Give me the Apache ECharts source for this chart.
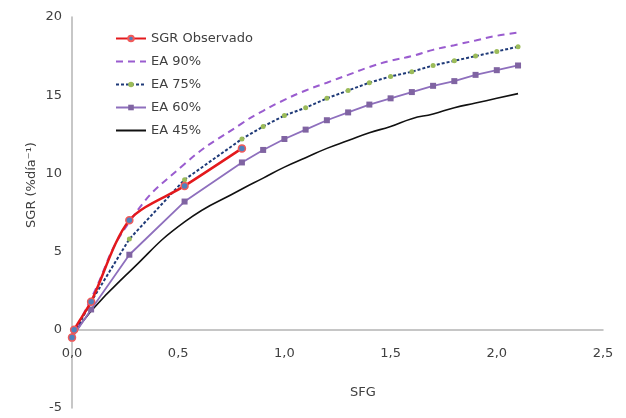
<!DOCTYPE html>
<html>
<head>
<meta charset="utf-8">
<script src="https://cdn.jsdelivr.net/npm/echarts@6/dist/echarts.min.js"></script>
<style>html,body{margin:0;padding:0;background:#fff}#c{width:626px;height:418px}</style>
</head>
<body>
<div id="c"></div>
<script>
// ---- data ----
const seriesNames = ['SGR Observado', 'EA 90%', 'EA 75%', 'EA 60%', 'EA 45%'];
const obsX = [0.0, 0.01, 0.09, 0.27, 0.53, 0.80];
const obsY = [-0.5, 0.0, 1.8, 7.0, 9.2, 11.6];
const modelX = [0.0, 0.09, 0.27, 0.53, 0.8, 0.9, 1.0, 1.1, 1.2, 1.3, 1.4, 1.5, 1.6, 1.7, 1.8, 1.9, 2.0, 2.1];
const ea90 = [-0.5, 2.0, 6.9, 10.6, 13.2, 14.0, 14.7, 15.3, 15.8, 16.3, 16.8, 17.2, 17.5, 17.9, 18.2, 18.5, 18.8, 19.0];
const ea75 = [-0.5, 1.8, 5.8, 9.6, 12.2, 13.0, 13.7, 14.2, 14.8, 15.3, 15.8, 16.2, 16.5, 16.9, 17.2, 17.5, 17.8, 18.1];
const ea60 = [-0.5, 1.3, 4.8, 8.2, 10.7, 11.5, 12.2, 12.8, 13.4, 13.9, 14.4, 14.8, 15.2, 15.6, 15.9, 16.3, 16.6, 16.9];
const ea45 = [-0.5, 1.2, 3.7, 6.9, 9.0, 9.7, 10.4, 11.0, 11.6, 12.1, 12.6, 13.0, 13.5, 13.8, 14.2, 14.5, 14.8, 15.1];
const xTicks = { min: 0, max: 2.5, interval: 0.5 };
const yTicks = { min: -5, max: 20, interval: 5 };
const xTitle = 'SFG';
const yTitle = 'SGR (%día⁻¹)';

const pairs = (xs, ys) => xs.map((x, i) => [x, ys[i]]);
const FONT = 'DejaVu Sans';
const TXT = '#404040';
const AXIS = '#b4b4b4';
const HIDE = { color: 'rgba(0,0,0,0)', borderColor: 'rgba(0,0,0,0)', borderWidth: 0 };

// layout: plot area, and the part of it above y = 0 (where the x axis is drawn)
const G = { left: 72, right: 23, top: 17, bottom: 10 };
const plotH = 418 - G.top - G.bottom;
const zeroY = G.top + plotH * (yTicks.max - 0) / (yTicks.max - yTicks.min);

const chart = echarts.init(document.getElementById('c'), null, { renderer: 'canvas' });
chart.setOption({
  animation: false,
  backgroundColor: '#fff',
  textStyle: { fontFamily: FONT },
  grid: [
    { left: G.left, right: G.right, top: G.top, bottom: G.bottom },
    { left: G.left, right: G.right, top: G.top, bottom: 418 - zeroY }
  ],
  legend: {
    orient: 'vertical', left: 110, top: 27,
    itemWidth: 30, itemHeight: 7, itemGap: 10,
    textStyle: { fontFamily: FONT, fontSize: 13, color: TXT },
    data: [
      { name: seriesNames[0] },
      { name: seriesNames[1], itemStyle: HIDE },
      { name: seriesNames[2] },
      { name: seriesNames[3] },
      { name: seriesNames[4], itemStyle: HIDE }
    ]
  },
  xAxis: [
    { gridIndex: 0, type: 'value', min: xTicks.min, max: xTicks.max, interval: xTicks.interval,
      axisLine: { show: false }, axisTick: { show: false }, axisLabel: { show: false }, splitLine: { show: false } },
    { gridIndex: 1, type: 'value', position: 'bottom', min: xTicks.min, max: xTicks.max, interval: xTicks.interval,
      axisLine: { onZero: false, lineStyle: { color: AXIS, width: 1.5 } },
      axisTick: { show: false },
      splitLine: { show: false },
      axisLabel: { margin: 17, fontSize: 13, color: TXT, fontFamily: FONT,
        formatter: v => v.toFixed(1).replace('.', ',') } }
  ],
  yAxis: [
    { gridIndex: 0, type: 'value', min: yTicks.min, max: yTicks.max, interval: yTicks.interval,
      axisLine: { show: true, onZero: false, lineStyle: { color: AXIS, width: 1.5 } },
      axisTick: { show: false },
      splitLine: { show: false },
      axisLabel: { margin: 10, fontSize: 13, color: TXT, fontFamily: FONT } },
    { gridIndex: 1, type: 'value', min: 0, max: yTicks.max, show: false }
  ],
  graphic: [
    { type: 'text', left: 350, top: 386, style: { text: xTitle, font: '13px "DejaVu Sans"', fill: TXT } },
    { type: 'text', x: 32, y: 185, rotation: Math.PI / 2,
      style: { text: yTitle, font: '13px "DejaVu Sans"', fill: TXT, align: 'center', verticalAlign: 'middle' } }
  ],
  series: [
    { name: seriesNames[0], type: 'line', z: 10, data: pairs(obsX, obsY), smooth: 0.3,
      symbol: 'circle', symbolSize: 7,
      lineStyle: { color: '#e3191c', width: 2.5 },
      itemStyle: { color: '#4f81bd', borderColor: '#f05a5a', borderWidth: 1.5 } },
    { name: seriesNames[1], type: 'line', z: 3, data: pairs(modelX, ea90), smooth: true,
      symbol: 'none',
      lineStyle: { color: '#9a5ccf', width: 2, type: [7, 5] },
      itemStyle: { color: '#9a5ccf' } },
    { name: seriesNames[2], type: 'line', z: 4, data: pairs(modelX, ea75),
      symbol: 'circle', symbolSize: 5,
      lineStyle: { color: '#1f3a78', width: 2, type: [3, 2] },
      itemStyle: { color: '#9bbb59', borderWidth: 0 } },
    { name: seriesNames[3], type: 'line', z: 4, data: pairs(modelX, ea60),
      symbol: 'rect', symbolSize: 6,
      lineStyle: { color: '#8e6fbd', width: 1.8 },
      itemStyle: { color: '#8064a2', borderWidth: 0 } },
    { name: seriesNames[4], type: 'line', z: 2, data: pairs(modelX, ea45), smooth: true,
      symbol: 'none',
      lineStyle: { color: '#111', width: 1.6 },
      itemStyle: { color: '#111' } }
  ]
});
</script>
</body>
</html>
